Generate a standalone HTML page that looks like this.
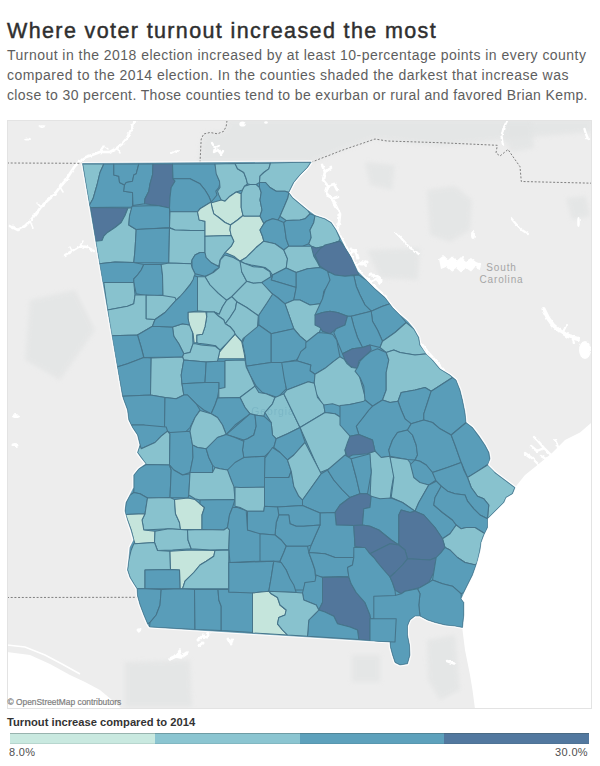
<!DOCTYPE html>
<html><head><meta charset="utf-8"><title>Where voter turnout increased the most</title>
<style>
html,body{margin:0;padding:0;background:#fff;}
body{width:600px;height:766px;position:relative;overflow:hidden;font-family:"Liberation Sans",sans-serif;}
#title{position:absolute;left:7px;top:16px;font-size:21.5px;line-height:30px;font-weight:normal;color:#2f2f2f;white-space:nowrap;letter-spacing:1.38px;-webkit-text-stroke:0.45px #2f2f2f;}
.sub{position:absolute;left:7px;font-size:14px;line-height:20px;color:#5e5e5e;white-space:nowrap;letter-spacing:0.42px;}
#map{position:absolute;left:0;top:0;}
#osm{position:absolute;left:7.5px;top:697px;font-size:8.4px;color:#808080;-webkit-text-stroke:0.2px #808080;white-space:nowrap;}
#lt{position:absolute;left:7px;top:716.4px;font-size:11.2px;font-weight:bold;color:#333;white-space:nowrap;}
.seg{position:absolute;top:733px;height:10.6px;box-shadow:inset 0 1px 0 rgba(60,80,80,0.35), inset 0 -1px 0 rgba(60,80,80,0.12);}
.ll{position:absolute;top:746.4px;font-size:11px;letter-spacing:0.35px;color:#505050;white-space:nowrap;}
</style></head><body>
<svg id="map" width="600" height="766" viewBox="0 0 600 766">
<defs><filter id="bl" x="-20%" y="-20%" width="140%" height="140%"><feGaussianBlur stdDeviation="2"/></filter><filter id="rough" x="-5%" y="-5%" width="110%" height="110%"><feTurbulence type="fractalNoise" baseFrequency="0.22" numOctaves="2" seed="7" result="n"/><feDisplacementMap in="SourceGraphic" in2="n" scale="3.2" xChannelSelector="R" yChannelSelector="G"/></filter><clipPath id="frame"><rect x="7" y="120" width="584" height="588"/></clipPath></defs>
<g clip-path="url(#frame)">
<rect x="7" y="120" width="584" height="588" fill="#ededed"/>
<polygon points="228.0,119.0 592.0,119.0 592.0,132.0 520.0,138.0 440.0,146.0 375.0,139.0 350.0,147.0 330.0,155.0 311.0,163.0 199.0,163.0 200.6,143.0 204.4,133.8 212.0,132.0 223.0,132.0 227.0,126.0" fill="#e2e4e4" opacity="0.75" filter="url(#bl)"/>
<polygon points="427.0,190.0 455.0,186.0 472.0,200.0 470.0,230.0 450.0,242.0 430.0,235.0" fill="#e2e4e4" opacity="0.75" filter="url(#bl)"/>
<polygon points="365.0,162.0 395.0,165.0 392.0,190.0 370.0,185.0" fill="#e2e4e4" opacity="0.75" filter="url(#bl)"/>
<polygon points="367.0,250.0 420.0,248.0 418.0,280.0 380.0,278.0" fill="#e2e4e4" opacity="0.75" filter="url(#bl)"/>
<polygon points="352.0,655.0 380.0,655.0 380.0,682.0 352.0,682.0" fill="#e2e4e4" opacity="0.75" filter="url(#bl)"/>
<polygon points="427.0,640.0 455.0,635.0 460.0,690.0 440.0,700.0 428.0,680.0" fill="#e2e4e4" opacity="0.75" filter="url(#bl)"/>
<polygon points="125.0,662.0 190.0,660.0 192.0,707.0 125.0,707.0" fill="#e2e4e4" opacity="0.75" filter="url(#bl)"/>
<polygon points="30.0,300.0 75.0,290.0 95.0,330.0 60.0,380.0 25.0,360.0" fill="#e2e4e4" opacity="0.75" filter="url(#bl)"/>
<polygon points="566.0,198.0 586.0,196.0 590.0,216.0 572.0,220.0" fill="#e2e4e4" opacity="0.75" filter="url(#bl)"/>
<polygon points="505.0,121.0 532.0,121.0 534.0,148.0 512.0,152.0 504.0,140.0" fill="#e2e4e4" opacity="0.75" filter="url(#bl)"/>
<polygon points="592.0,422.0 580.0,432.5 565.0,440.0 552.0,453.0 537.5,465.0 525.0,475.0 515.0,487.5 512.5,493.8 506.0,497.5 503.8,502.5 498.8,507.5 492.5,513.8 487.5,518.8 487.5,527.5 483.8,535.0 481.0,542.5 480.0,550.0 477.5,560.0 476.0,565.0 472.5,575.0 467.5,585.0 463.8,592.5 461.0,598.8 463.8,602.5 463.8,615.0 462.5,627.5 462.5,630.0 465.0,650.0 470.0,675.0 472.5,690.0 475.0,709.0 592.0,709.0" fill="#ffffff"/>
<polygon points="7,652 30,655 50,664 70,675 85,682 100,690 112,700 122,709 7,709" fill="#fff"/>
<path d="M7,645 L25,647 45,655 62,664 80,674" fill="none" stroke="#fff" stroke-width="1.5"/>
<g filter="url(#rough)"><!--ROUGH-->
<path d="M135,121 L131,130 127,138 122,144 117,148 110,152 100,152 92,155 86,157 80,161 75,166 71,172 66,180 60,187 54,195 47,201 41,207 35,215 30,221 25,226 18,230 10,226" fill="none" stroke="#ffffff" stroke-linecap="round" stroke-linejoin="round" stroke-width="2.7"/>
<path d="M30,221 L33,228 M41,207 L37,203 M60,187 L63,192 M100,152 L104,146 108,149 M117,148 L120,153" fill="none" stroke="#ffffff" stroke-linecap="round" stroke-linejoin="round" stroke-width="1.5"/>
<path d="M65,255 L72,251 80,246 87,247 94,251" fill="none" stroke="#ffffff" stroke-linecap="round" stroke-linejoin="round" stroke-width="2.4"/>
<path d="M80,246 L83,241 M72,251 L70,247" fill="none" stroke="#ffffff" stroke-linecap="round" stroke-linejoin="round" stroke-width="1.5"/>
<ellipse cx="27.5" cy="139" rx="3.5" ry="1.6" fill="#fff"/><ellipse cx="42" cy="126.5" rx="3" ry="1.3" fill="#fff"/>
<ellipse cx="16" cy="416" rx="4" ry="2" fill="#fff"/><ellipse cx="15" cy="445" rx="3.5" ry="2" fill="#fff"/>
<path d="M212,143 L215,148 214,152 218,150 221,154 223,151 M215,148 L219,146" fill="none" stroke="#ffffff" stroke-linecap="round" stroke-linejoin="round" stroke-width="2.4"/>
<path d="M171,153 L175,151 178,152" fill="none" stroke="#ffffff" stroke-linecap="round" stroke-linejoin="round" stroke-width="2"/>
<ellipse cx="242.5" cy="124" rx="3.2" ry="2.6" fill="#fff"/><ellipse cx="266" cy="122.5" rx="1.8" ry="1.2" fill="#fff"/>
<path d="M322,165 L325,172 323,180 328,186 326,193 332,199 336,206 340,214 339,223 337,231 M325,172 L331,168 M328,186 L334,184 337,190 M332,199 L338,197" fill="none" stroke="#ffffff" stroke-linecap="round" stroke-linejoin="round" stroke-width="2.7"/>
<path d="M351,249 L356,252 358,258 M371,275 L377,276 381,281 M362,264 L367,262" fill="none" stroke="#ffffff" stroke-linecap="round" stroke-linejoin="round" stroke-width="3"/>
<path d="M338,232 L344,243 350,254 356,266 362,275 370,282 378,290 386,297" fill="none" stroke="#ffffff" stroke-linecap="round" stroke-linejoin="round" stroke-width="2.6"/>
<path d="M356,266 L362,262 366,266 M370,282 L376,279 380,283 M350,254 L355,250" fill="none" stroke="#ffffff" stroke-linecap="round" stroke-linejoin="round" stroke-width="2"/>
<path d="M415,335 L421,343 428,352 436,361 444,370" fill="none" stroke="#ffffff" stroke-linecap="round" stroke-linejoin="round" stroke-width="2.2"/>
<polygon points="439,259 443,256 448,260 452,256.5 457,260.5 461,257 466,261 471,258 476,262 481.5,264 480,269 475,267 471,271.5 466,268 461,272.5 456,268 451,271.5 446,267 441,269" fill="#fff"/>
<path d="M446,262 L443,267 M461,262 L463,257 M468,264 L470,269" fill="none" stroke="#ffffff" stroke-linecap="round" stroke-linejoin="round" stroke-width="2"/>
<path d="M396,233 L402,239 408,246 415,252 419,254" fill="none" stroke="#ffffff" stroke-linecap="round" stroke-linejoin="round" stroke-width="2.2"/>
<path d="M511,218 L516,224 522,230 528,234" fill="none" stroke="#ffffff" stroke-linecap="round" stroke-linejoin="round" stroke-width="2.2"/>
<ellipse cx="473" cy="235" rx="2" ry="4" fill="#fff"/>
<path d="M543.5,309 L548,318 553,325 560,331 568,336 578,339" fill="none" stroke="#ffffff" stroke-linecap="round" stroke-linejoin="round" stroke-width="4"/>
<path d="M563,332 L566,326 M572,336 L574,343" fill="none" stroke="#ffffff" stroke-linecap="round" stroke-linejoin="round" stroke-width="2"/>
<ellipse cx="585" cy="350" rx="6" ry="9" fill="#fff"/>
<path d="M584.5,129 L586,134 588,139" fill="none" stroke="#ffffff" stroke-linecap="round" stroke-linejoin="round" stroke-width="2.4"/>
<path d="M507,121 L503.5,128 501.5,137 503,145" fill="none" stroke="#ffffff" stroke-linecap="round" stroke-linejoin="round" stroke-width="2.2"/>
<ellipse cx="578.5" cy="222" rx="1.3" ry="5" fill="#fff"/>
<path d="M551,455 L544,448 538,441 534,437 M544,448 L537,451 531,446 M538,464 L532,458 525,453 M558,447 L555,440 M546,459 L541,456" fill="none" stroke="#ffffff" stroke-linecap="round" stroke-linejoin="round" stroke-width="2.4"/>
<path d="M170,659 L176,656 181,657 187,653 M178,655 L180,651" fill="none" stroke="#ffffff" stroke-linecap="round" stroke-linejoin="round" stroke-width="3.4"/>
<path d="M198,640 L203,636 207,637 209,633 M199,646 L203,643 M228,639 L231,644 232,640" fill="none" stroke="#ffffff" stroke-linecap="round" stroke-linejoin="round" stroke-width="3"/>
<path d="M447,661 L451,662.5 454,663.5" fill="none" stroke="#ffffff" stroke-linecap="round" stroke-linejoin="round" stroke-width="2.6"/>
<ellipse cx="139" cy="630" rx="2.5" ry="1.8" fill="#fff"/>
</g>
<path d="M7,163 L82.5,163.3" fill="none" stroke="#7f7f7f" stroke-width="1" stroke-dasharray="2,1.7"/>
<path d="M200,162.5 L201.2,139 203.7,134 210,132.5 217.5,133.8 223.7,131.3 226.2,126.3 227,120.5" fill="none" stroke="#7f7f7f" stroke-width="1" stroke-dasharray="2,1.7"/>
<path d="M311.3,162.3 L322,158 330,155 340,151 350,147.5 362,143.5 375,139 387,141 440,142.7 497.3,145.3 496,153 500,156 508,149.5 520,166.7 521.3,181.5 592,183.2" fill="none" stroke="#7f7f7f" stroke-width="1" stroke-dasharray="2,1.7"/>
<path d="M7,597.5 L137.5,597.3" fill="none" stroke="#7f7f7f" stroke-width="1" stroke-dasharray="2,1.7"/>
<polygon points="82.5,163.5 311.2,162.0 307.5,167.5 300.0,175.0 293.8,182.5 288.8,192.5 292.5,197.5 300.0,203.8 307.5,210.0 315.0,215.5 325.0,218.8 331.2,222.5 336.2,230.0 340.0,237.5 345.0,247.5 351.2,257.5 357.5,271.2 366.2,280.0 375.0,288.8 385.0,297.5 392.5,307.5 400.0,315.0 407.5,321.2 413.8,328.8 418.8,337.5 420.0,345.0 426.0,354.0 432.5,360.0 440.0,369.0 450.0,375.0 456.0,380.0 460.0,390.0 462.5,400.0 465.0,412.5 466.0,422.5 472.5,427.5 479.0,436.0 485.0,445.0 489.0,452.5 490.0,458.8 487.5,465.0 495.0,472.5 505.0,480.0 515.0,487.5 512.5,493.8 506.0,497.5 503.8,502.5 498.8,507.5 492.5,513.8 487.5,518.8 487.5,527.5 483.8,535.0 481.0,542.5 480.0,550.0 477.5,560.0 476.0,565.0 472.5,575.0 467.5,585.0 463.8,592.5 461.0,598.8 463.8,602.5 463.8,615.0 462.5,627.5 455.0,626.0 445.0,625.0 435.0,622.5 427.5,620.0 420.0,616.0 415.0,616.0 410.0,620.0 407.5,626.0 407.5,635.0 409.5,645.0 410.0,655.0 407.5,663.8 400.0,665.0 395.0,662.5 392.5,655.0 390.5,647.5 390.0,642.0 149.5,627.0 147.5,623.8 143.8,615.0 140.0,605.0 137.5,596.0 137.0,588.8 133.8,583.8 130.0,577.5 127.5,570.0 128.8,560.0 130.0,547.5 133.8,540.0 131.0,530.0 127.5,520.0 125.0,511.0 126.0,502.5 130.0,495.0 133.8,487.5 133.8,475.0 138.8,468.8 146.0,463.8 141.0,457.5 137.5,452.5 140.0,445.0 137.5,435.0 132.5,427.5 128.8,420.0 127.5,410.0 123.8,400.0 122.5,396.0" fill="none" stroke="#ffffff" stroke-width="3.2" stroke-linejoin="round" opacity="0.85"/>
<text x="501.5" y="271" text-anchor="middle" font-family="Liberation Sans, sans-serif" font-size="10" fill="#a6a6a6" letter-spacing="0.85">South</text>
<text x="501.5" y="282.5" text-anchor="middle" font-family="Liberation Sans, sans-serif" font-size="10" fill="#a6a6a6" letter-spacing="0.85">Carolina</text>
<clipPath id="ga"><polygon points="82.5,163.5 311.2,162.0 307.5,167.5 300.0,175.0 293.8,182.5 288.8,192.5 292.5,197.5 300.0,203.8 307.5,210.0 315.0,215.5 325.0,218.8 331.2,222.5 336.2,230.0 340.0,237.5 345.0,247.5 351.2,257.5 357.5,271.2 366.2,280.0 375.0,288.8 385.0,297.5 392.5,307.5 400.0,315.0 407.5,321.2 413.8,328.8 418.8,337.5 420.0,345.0 426.0,354.0 432.5,360.0 440.0,369.0 450.0,375.0 456.0,380.0 460.0,390.0 462.5,400.0 465.0,412.5 466.0,422.5 472.5,427.5 479.0,436.0 485.0,445.0 489.0,452.5 490.0,458.8 487.5,465.0 495.0,472.5 505.0,480.0 515.0,487.5 512.5,493.8 506.0,497.5 503.8,502.5 498.8,507.5 492.5,513.8 487.5,518.8 487.5,527.5 483.8,535.0 481.0,542.5 480.0,550.0 477.5,560.0 476.0,565.0 472.5,575.0 467.5,585.0 463.8,592.5 461.0,598.8 463.8,602.5 463.8,615.0 462.5,627.5 455.0,626.0 445.0,625.0 435.0,622.5 427.5,620.0 420.0,616.0 415.0,616.0 410.0,620.0 407.5,626.0 407.5,635.0 409.5,645.0 410.0,655.0 407.5,663.8 400.0,665.0 395.0,662.5 392.5,655.0 390.5,647.5 390.0,642.0 149.5,627.0 147.5,623.8 143.8,615.0 140.0,605.0 137.5,596.0 137.0,588.8 133.8,583.8 130.0,577.5 127.5,570.0 128.8,560.0 130.0,547.5 133.8,540.0 131.0,530.0 127.5,520.0 125.0,511.0 126.0,502.5 130.0,495.0 133.8,487.5 133.8,475.0 138.8,468.8 146.0,463.8 141.0,457.5 137.5,452.5 140.0,445.0 137.5,435.0 132.5,427.5 128.8,420.0 127.5,410.0 123.8,400.0 122.5,396.0"/></clipPath>
<polygon points="82.5,163.5 311.2,162.0 307.5,167.5 300.0,175.0 293.8,182.5 288.8,192.5 292.5,197.5 300.0,203.8 307.5,210.0 315.0,215.5 325.0,218.8 331.2,222.5 336.2,230.0 340.0,237.5 345.0,247.5 351.2,257.5 357.5,271.2 366.2,280.0 375.0,288.8 385.0,297.5 392.5,307.5 400.0,315.0 407.5,321.2 413.8,328.8 418.8,337.5 420.0,345.0 426.0,354.0 432.5,360.0 440.0,369.0 450.0,375.0 456.0,380.0 460.0,390.0 462.5,400.0 465.0,412.5 466.0,422.5 472.5,427.5 479.0,436.0 485.0,445.0 489.0,452.5 490.0,458.8 487.5,465.0 495.0,472.5 505.0,480.0 515.0,487.5 512.5,493.8 506.0,497.5 503.8,502.5 498.8,507.5 492.5,513.8 487.5,518.8 487.5,527.5 483.8,535.0 481.0,542.5 480.0,550.0 477.5,560.0 476.0,565.0 472.5,575.0 467.5,585.0 463.8,592.5 461.0,598.8 463.8,602.5 463.8,615.0 462.5,627.5 455.0,626.0 445.0,625.0 435.0,622.5 427.5,620.0 420.0,616.0 415.0,616.0 410.0,620.0 407.5,626.0 407.5,635.0 409.5,645.0 410.0,655.0 407.5,663.8 400.0,665.0 395.0,662.5 392.5,655.0 390.5,647.5 390.0,642.0 149.5,627.0 147.5,623.8 143.8,615.0 140.0,605.0 137.5,596.0 137.0,588.8 133.8,583.8 130.0,577.5 127.5,570.0 128.8,560.0 130.0,547.5 133.8,540.0 131.0,530.0 127.5,520.0 125.0,511.0 126.0,502.5 130.0,495.0 133.8,487.5 133.8,475.0 138.8,468.8 146.0,463.8 141.0,457.5 137.5,452.5 140.0,445.0 137.5,435.0 132.5,427.5 128.8,420.0 127.5,410.0 123.8,400.0 122.5,396.0" fill="#599db9"/>
<g clip-path="url(#ga)" stroke="#46748a" stroke-width="1.05" stroke-linejoin="round">
<polygon points="82.5,163.8 103.8,164.0 100.0,172.5 97.0,185.0 93.0,198.8 89.2,205.5" fill="#88c2ce"/>
<polygon points="103.8,164.0 113.8,164.0 113.8,175.0 118.8,176.2 119.5,182.5 124.5,185.0 123.8,191.2 132.5,192.5 132.5,207.0 90.5,207.5 89.2,205.5 93.0,198.8 97.0,185.0 100.0,172.5" fill="#599db9"/>
<polygon points="113.8,164.0 138.8,164.0 136.2,173.8 133.8,175.0 132.5,181.2 126.2,182.5 124.5,185.0 119.5,182.5 118.8,176.2 113.8,175.0" fill="#599db9"/>
<polygon points="138.8,164.0 153.0,164.0 152.5,175.0 150.0,183.8 148.8,191.2 145.0,198.8 144.5,203.8 133.0,205.5 132.5,192.5 123.8,191.2 124.5,185.0 126.2,182.5 132.5,181.2 133.8,175.0 136.2,173.8" fill="#599db9"/>
<polygon points="153.0,164.0 172.5,164.0 173.0,177.5 175.0,181.2 171.2,187.5 170.0,197.5 169.5,208.0 157.5,205.5 144.5,203.8 145.0,198.8 148.8,191.2 150.0,183.8 152.5,175.0" fill="#52769b"/>
<polygon points="172.5,164.0 215.0,164.0 217.0,175.0 220.0,182.5 218.8,187.5 215.8,191.2 217.0,195.0 211.2,202.0 208.8,196.2 205.0,190.0 200.0,183.8 190.0,178.8 173.0,178.8" fill="#599db9"/>
<polygon points="173.0,178.8 190.0,178.8 200.0,183.8 205.0,190.0 208.8,196.2 211.2,202.0 200.0,208.8 197.5,211.8 170.0,211.8 169.5,208.0 170.0,197.5 171.2,187.5 175.0,181.2" fill="#599db9"/>
<polygon points="90.5,207.5 128.0,208.0 125.0,215.5 121.2,222.5 115.0,227.5 107.5,232.5 103.8,236.2 102.0,240.5 95.5,241.2" fill="#52769b"/>
<polygon points="128.0,208.0 132.0,208.0 129.5,216.2 128.8,225.0 136.2,229.5 135.0,250.0 133.8,262.5 115.0,262.0 99.0,263.8 95.5,241.2 102.0,240.5 103.8,236.2 107.5,232.5 115.0,227.5 121.2,222.5 125.0,215.5" fill="#88c2ce"/>
<polygon points="132.0,206.2 157.5,205.5 169.5,208.0 169.5,227.5 150.0,228.8 136.2,229.5 128.8,225.0 129.5,216.2" fill="#599db9"/>
<polygon points="136.2,229.5 150.0,228.8 169.5,228.0 168.8,263.0 133.8,262.5 135.0,250.0" fill="#599db9"/>
<polygon points="170.0,211.8 197.5,211.8 199.2,220.0 205.0,221.2 205.0,230.5 191.2,230.5 175.0,230.0 169.5,227.5" fill="#88c2ce"/>
<polygon points="169.5,228.0 175.0,230.0 191.2,230.5 205.0,230.5 205.0,252.5 200.0,252.5 195.0,255.0 192.0,260.0 191.2,263.8 168.8,263.0" fill="#88c2ce"/>
<polygon points="200.0,252.5 205.0,252.5 206.2,257.5 211.2,262.5 216.2,265.0 220.0,267.5 215.0,270.0 211.2,273.8 205.0,276.2 200.0,275.0 195.0,273.8 192.0,267.5 192.0,260.0 195.0,255.0" fill="#599db9"/>
<polygon points="99.0,263.8 115.0,262.0 133.8,262.5 143.8,264.5 141.2,270.0 137.5,275.0 133.8,278.8 133.8,282.5 102.5,283.0" fill="#599db9"/>
<polygon points="143.8,264.5 161.2,264.5 162.5,275.0 163.0,295.0 150.0,296.2 136.2,293.8 133.8,282.5 133.8,278.8 137.5,275.0 141.2,270.0" fill="#599db9"/>
<polygon points="161.2,264.5 168.8,263.0 191.2,263.8 192.0,267.5 195.0,273.8 193.8,280.0 188.8,286.2 183.8,292.5 180.0,300.0 163.0,300.0 163.0,295.0 162.5,275.0" fill="#88c2ce"/>
<polygon points="215.0,164.0 235.0,163.5 237.5,168.8 243.8,172.5 246.2,178.8 247.5,183.8 244.5,186.2 242.5,190.0 236.2,192.0 230.0,196.2 225.0,201.2 221.2,200.0 218.8,195.0 217.5,191.2 220.0,187.5 219.5,181.2 216.2,173.8" fill="#88c2ce"/>
<polygon points="235.0,163.5 270.5,163.0 268.8,168.8 263.8,172.5 260.0,176.2 259.5,182.5 256.2,184.5 250.0,184.5 247.5,183.8 246.2,178.8 243.8,172.5 237.5,168.8" fill="#88c2ce"/>
<polygon points="270.5,163.0 311.2,162.0 307.5,167.5 300.0,175.0 293.8,182.5 288.8,192.5 285.0,191.2 276.2,191.2 270.0,187.5 265.5,182.5 259.5,182.5 260.0,176.2 263.8,172.5 268.8,168.8" fill="#88c2ce"/>
<polygon points="225.0,201.2 230.0,196.2 236.2,192.0 241.2,193.8 241.2,207.5 243.0,215.5 237.5,220.0 230.5,225.0 225.0,222.5 218.8,217.5 213.8,213.8 212.0,207.5 211.0,202.0 212.5,202.5 221.2,200.0" fill="#c5e5dc"/>
<polygon points="244.5,186.2 250.0,184.5 256.2,184.5 259.5,187.5 261.2,192.5 260.0,200.0 262.0,210.0 260.0,216.2 243.8,216.2 243.0,215.5 241.2,207.5 241.2,193.8 242.5,190.0" fill="#88c2ce"/>
<polygon points="259.5,182.5 265.5,182.5 270.0,187.5 276.2,191.2 285.0,191.2 288.8,192.5 288.0,197.5 283.8,207.5 280.0,216.2 278.0,220.0 272.5,218.8 266.2,221.2 263.8,223.8 260.0,216.2 262.0,210.0 260.0,200.0 261.2,192.5 259.5,187.5" fill="#599db9"/>
<polygon points="288.8,192.5 292.5,197.5 300.0,203.8 307.5,210.0 310.0,213.8 305.0,218.8 300.0,220.0 286.2,220.5 280.0,216.2 283.8,207.5 288.0,197.5" fill="#88c2ce"/>
<polygon points="211.0,202.0 212.0,207.5 213.8,213.8 218.8,217.5 225.0,222.5 230.5,225.0 230.0,230.0 231.2,235.5 205.0,236.2 205.0,221.2 199.2,220.0 197.5,211.8 200.0,208.8" fill="#c5e5dc"/>
<polygon points="230.5,225.0 237.5,220.0 243.0,215.5 243.8,216.2 260.0,216.2 263.8,223.8 260.0,230.0 262.5,236.2 263.8,241.2 256.2,247.5 246.2,257.5 240.0,261.2 233.8,256.2 225.0,252.5 231.2,246.2 233.8,241.2 231.2,235.5 230.0,230.0" fill="#c5e5dc"/>
<polygon points="263.8,223.8 266.2,221.2 272.5,218.8 278.0,220.0 283.8,222.5 285.0,230.0 286.2,238.8 288.8,246.2 283.8,250.0 275.0,243.8 263.8,241.2 262.5,236.2 260.0,230.0" fill="#599db9"/>
<polygon points="283.8,222.5 286.2,220.5 300.0,220.0 305.0,218.8 310.0,213.8 315.0,215.5 313.8,222.5 310.0,230.0 311.2,237.5 308.8,243.8 302.5,246.2 288.8,246.2 286.2,238.8 285.0,230.0" fill="#599db9"/>
<polygon points="315.0,215.5 325.0,218.8 331.2,222.5 336.2,230.0 340.0,238.8 338.8,241.2 325.0,246.2 316.2,248.0 311.2,246.2 308.8,243.8 311.2,237.5 310.0,230.0 313.8,222.5" fill="#88c2ce"/>
<polygon points="311.2,246.2 316.2,248.0 325.0,246.2 338.8,241.2 342.5,243.8 347.5,250.0 350.0,255.0 352.5,262.5 351.2,270.0 346.2,272.5 340.0,275.0 332.5,272.5 325.0,269.5 317.5,262.5 313.8,256.2 311.2,251.2" fill="#52769b"/>
<polygon points="205.0,236.2 231.2,235.5 233.8,241.2 231.2,246.2 225.0,252.5 220.0,260.0 218.8,266.2 215.0,264.5 211.2,262.5 206.2,257.5 205.0,252.5" fill="#88c2ce"/>
<polygon points="240.0,261.2 246.2,257.5 256.2,247.5 263.8,241.2 275.0,243.8 283.8,250.0 287.5,258.8 286.2,268.0 272.5,275.0 270.0,271.2 265.0,267.5 258.8,266.2 251.2,265.0 244.2,263.2" fill="#88c2ce"/>
<polygon points="283.8,250.0 288.8,246.2 302.5,246.2 311.2,246.2 313.8,256.2 317.5,262.5 320.0,267.5 307.5,268.8 296.2,272.5 286.2,268.0 287.5,258.8" fill="#88c2ce"/>
<polygon points="272.5,275.0 286.2,268.0 296.2,272.5 296.2,287.5 271.2,280.0" fill="#599db9"/>
<polygon points="262.5,281.2 271.2,276.2 272.5,275.0 271.2,280.0 296.2,287.5 293.8,300.0 285.0,303.8 277.5,297.5 272.5,293.8 262.5,285.0" fill="#599db9"/>
<polygon points="296.2,272.5 307.5,268.8 320.0,267.5 325.0,269.5 332.5,272.5 336.2,275.0 330.0,282.5 323.8,291.2 322.5,300.0 320.0,303.8 310.0,305.0 300.0,300.0 293.8,300.0 296.2,287.5" fill="#599db9"/>
<polygon points="285.0,303.8 293.8,300.0 300.0,300.0 310.0,305.0 320.0,303.8 322.5,308.8 320.0,317.5 321.2,327.5 318.8,333.8 307.5,342.5 300.0,336.2 293.8,328.8" fill="#88c2ce"/>
<polygon points="322.5,308.8 327.5,312.5 336.2,311.2 347.5,316.2 345.0,323.8 336.2,327.5 330.0,333.8 322.5,331.2 321.2,327.5 320.0,317.5" fill="#52769b"/>
<polygon points="272.5,293.8 277.5,297.5 285.0,303.8 293.8,328.8 271.2,333.8 258.8,325.0 258.8,315.0 266.2,303.8" fill="#599db9"/>
<polygon points="258.8,325.0 271.2,333.8 271.2,362.5 246.2,366.2 245.0,355.0 242.5,342.5 245.0,336.2 251.2,331.2" fill="#599db9"/>
<polygon points="271.2,333.8 293.8,328.8 300.0,336.2 307.5,342.5 305.0,350.0 296.2,360.0 282.5,362.5 271.2,362.5" fill="#599db9"/>
<polygon points="246.2,366.2 271.2,362.5 282.5,362.5 286.2,388.8 277.5,397.5 262.5,392.5 256.2,386.2 250.0,375.0" fill="#599db9"/>
<polygon points="205.0,276.7 213.3,272.5 219.2,267.5 220.3,260.0 225.0,255.0 233.3,257.5 240.0,261.3 244.2,263.3 241.7,271.7 246.7,281.3 231.7,296.7 226.7,300.3 218.3,293.3 210.0,285.0" fill="#88c2ce"/>
<polygon points="197.5,276.7 205.0,276.7 210.0,285.0 218.3,293.3 226.7,300.3 222.5,306.7 219.2,314.2 214.2,312.0 206.7,311.7 197.5,310.8" fill="#88c2ce"/>
<polygon points="240.0,261.3 244.2,263.3 253.3,266.7 263.3,267.5 270.0,271.7 270.8,276.7 261.7,282.5 253.3,283.3 246.7,281.3 241.7,271.7" fill="#88c2ce"/>
<polygon points="246.7,281.3 253.3,283.3 261.7,282.5 272.5,294.2 266.7,303.3 258.3,315.8 246.7,307.5 236.7,301.7 231.7,296.7" fill="#88c2ce"/>
<polygon points="226.7,300.3 231.7,296.7 236.7,301.7 235.3,309.2 230.0,317.5 225.3,323.7 223.7,319.7 218.7,316.3 214.2,312.0 219.2,314.2 222.5,306.7" fill="#88c2ce"/>
<polygon points="236.7,301.7 246.7,307.5 258.3,315.8 257.5,326.7 243.3,338.3 241.7,341.7 235.0,334.2 234.2,331.7 230.0,326.7 225.3,323.7 230.0,317.5 235.3,309.2" fill="#88c2ce"/>
<polygon points="235.0,334.2 241.7,341.7 244.2,353.3 245.0,358.7 218.3,358.7 219.2,352.5 226.7,343.3" fill="#c5e5dc"/>
<polygon points="206.7,311.7 214.2,312.0 218.7,316.3 223.7,319.7 225.3,323.7 230.0,326.7 234.2,331.7 235.0,334.2 226.7,343.3 220.0,350.0 215.8,345.8 206.7,344.2 198.3,343.3 196.7,342.5 196.7,335.0 202.5,334.2 205.0,326.7 206.7,316.7" fill="#88c2ce"/>
<polygon points="188.0,312.0 205.8,311.7 206.7,316.7 205.0,326.7 202.5,334.2 196.7,335.0 196.7,342.5 194.2,343.3 193.0,333.3 189.2,326.7 188.0,318.3" fill="#c5e5dc"/>
<polygon points="320.0,248.8 325.0,245.0 335.0,242.5 340.0,241.2 345.0,247.5 351.2,257.5 357.5,271.2 358.8,275.0 352.5,275.0 345.0,276.2 335.0,275.0 327.5,271.2 320.0,266.2 315.0,255.0" fill="#52769b"/>
<polygon points="353.8,275.5 358.8,275.0 366.2,280.0 375.0,288.8 385.0,297.5 390.0,303.8 382.5,306.2 371.2,311.2 365.0,305.0 360.0,295.0 356.2,286.2" fill="#599db9"/>
<polygon points="327.5,271.2 335.0,275.0 345.0,276.2 353.8,275.5 356.2,286.2 360.0,295.0 365.0,305.0 371.2,311.2 351.2,316.2 347.5,316.2 337.5,312.5 330.0,311.2 322.5,312.5 315.0,315.0 322.5,298.8 325.0,290.0 330.0,280.0" fill="#599db9"/>
<polygon points="322.5,312.5 330.0,311.2 337.5,312.5 347.5,316.2 345.0,325.0 336.2,328.8 330.0,333.8 322.5,331.2 320.0,327.5 315.0,325.0 315.0,315.0" fill="#52769b"/>
<polygon points="371.2,311.2 382.5,306.2 390.0,303.8 392.5,307.5 400.0,315.0 406.2,322.5 395.0,332.5 382.5,341.2 377.5,330.0 372.5,321.2" fill="#599db9"/>
<polygon points="351.2,316.2 371.2,311.2 372.5,321.2 377.5,330.0 382.5,341.2 380.0,347.5 370.0,345.0 362.5,347.5 357.5,337.5 353.8,326.2" fill="#599db9"/>
<polygon points="347.5,316.2 351.2,316.2 353.8,326.2 357.5,337.5 362.5,347.5 352.5,348.8 342.5,353.8 338.8,345.0 333.8,332.5 336.2,328.8 345.0,325.0" fill="#599db9"/>
<polygon points="342.5,353.8 352.5,348.8 362.5,347.5 370.0,345.0 371.2,350.0 365.0,356.2 358.8,361.2 357.5,368.8 350.0,366.2 345.0,360.0" fill="#52769b"/>
<polygon points="406.2,322.5 413.8,328.8 418.8,337.5 420.0,345.0 427.5,353.8 415.0,355.0 400.0,352.5 393.8,350.0 386.2,352.5 380.0,347.5 382.5,341.2 395.0,332.5" fill="#88c2ce"/>
<polygon points="305.8,342.5 318.3,332.5 326.7,333.3 332.5,334.2 336.7,340.0 339.2,353.3 340.0,356.7 333.3,361.7 325.0,368.3 315.0,374.2 310.0,370.8 310.8,365.0 296.7,360.8 300.8,351.7 305.8,347.5" fill="#599db9"/>
<polygon points="281.7,362.5 296.7,360.8 310.8,365.0 310.0,370.8 315.0,374.2 314.2,383.3 308.3,381.7 286.7,390.0 284.2,378.3" fill="#599db9"/>
<polygon points="340.0,356.7 344.2,359.2 346.7,363.3 351.7,367.5 356.7,368.3 360.0,378.3 363.3,390.0 366.7,403.3 363.3,416.7 340.0,420.0 325.0,408.3 320.0,400.0 315.8,393.3 314.2,383.3 315.0,374.2 325.0,368.3 333.3,361.7" fill="#88c2ce"/>
<polygon points="103.8,282.5 133.8,282.5 135.0,295.0 133.8,303.8 127.5,306.2 107.5,310.0" fill="#88c2ce"/>
<polygon points="107.5,310.0 127.5,306.2 133.8,303.8 135.0,295.0 146.2,295.0 146.2,318.8 155.0,319.5 152.5,326.2 137.5,335.0 111.2,335.8" fill="#88c2ce"/>
<polygon points="146.2,295.0 162.5,295.5 175.0,297.5 176.2,300.0 165.0,312.5 155.0,319.5 146.2,318.8" fill="#88c2ce"/>
<polygon points="172.5,327.0 182.5,323.8 189.5,325.0 192.5,332.5 193.0,343.8 190.0,352.5 183.8,353.8 178.8,343.8 173.8,336.2" fill="#88c2ce"/>
<polygon points="137.5,335.0 152.5,326.2 172.5,327.0 173.8,336.2 178.8,343.8 183.8,353.8 182.5,357.0 143.8,357.5 141.2,347.5" fill="#599db9"/>
<polygon points="111.2,335.8 137.5,335.0 141.2,347.5 143.8,357.5 127.5,363.8 117.0,367.0" fill="#599db9"/>
<polygon points="193.0,343.8 195.5,343.8 201.2,345.0 215.0,346.2 220.0,350.0 217.5,361.2 206.2,362.0 183.8,360.0 182.5,357.0 183.8,353.8 190.0,352.5" fill="#88c2ce"/>
<polygon points="117.0,367.0 127.5,363.8 143.8,357.5 151.2,358.0 150.5,395.0 122.5,396.2" fill="#599db9"/>
<polygon points="151.2,358.0 182.5,357.0 183.8,360.0 181.2,375.0 182.0,383.8 183.8,395.0 176.2,398.8 165.0,397.5 150.5,395.0" fill="#88c2ce"/>
<polygon points="183.8,360.0 206.2,362.0 205.0,382.5 182.0,383.8 181.2,375.0" fill="#599db9"/>
<polygon points="206.2,362.0 217.5,361.2 225.0,361.2 225.0,388.8 218.8,390.0 218.8,382.5 205.0,382.5" fill="#599db9"/>
<polygon points="182.0,383.8 205.0,382.5 218.8,382.5 218.8,390.0 217.5,397.5 215.0,405.0 211.2,413.8 203.8,410.0 196.2,403.8 187.5,395.0 183.8,395.0" fill="#599db9"/>
<polygon points="122.5,396.2 150.5,395.0 165.0,397.5 164.5,427.5 146.2,427.0 143.8,425.0 131.2,425.0 128.8,420.0 127.5,410.0 123.8,400.0" fill="#599db9"/>
<polygon points="165.0,397.5 176.2,398.8 183.8,395.0 187.5,395.0 196.2,403.8 200.0,410.0 195.0,417.5 190.0,427.5 185.0,432.5 165.0,432.5 164.5,427.5" fill="#599db9"/>
<polygon points="225.0,360.5 245.0,360.0 246.2,367.0 251.2,377.5 255.0,386.2 240.0,397.5 218.8,398.0 218.8,388.8 225.0,387.5" fill="#88c2ce"/>
<polygon points="240.0,397.5 255.0,386.2 258.8,392.5 266.2,393.8 275.0,397.5 272.5,403.8 265.0,412.5 263.8,416.2 255.0,415.0 250.0,413.8 245.0,407.5" fill="#88c2ce"/>
<polygon points="275.0,397.5 283.8,393.8 300.0,427.5 287.5,433.8 276.2,438.8 272.5,435.0 271.2,422.5 265.0,412.5 272.5,403.8" fill="#88c2ce"/>
<polygon points="283.8,393.8 286.8,390.0 308.2,381.8 314.2,383.2 317.5,397.5 323.8,405.0 325.0,412.5 300.0,427.5" fill="#88c2ce"/>
<polygon points="323.8,405.0 332.5,403.8 340.0,406.2 360.0,402.5 370.0,402.5 370.0,426.2 360.0,426.2 351.2,427.5 345.0,420.0 335.0,413.8 325.0,412.5" fill="#599db9"/>
<polygon points="300.0,427.5 325.0,412.5 335.0,413.8 345.0,420.0 351.2,427.5 351.2,440.0 345.0,450.0 346.2,457.5 332.5,467.5 320.0,472.5" fill="#88c2ce"/>
<polygon points="217.5,398.0 240.0,397.5 245.0,407.5 250.0,413.8 235.0,425.0 226.2,434.5 222.5,425.0 217.5,417.5 211.2,413.8 215.0,405.0" fill="#599db9"/>
<polygon points="226.2,434.5 250.0,413.8 255.0,415.0 256.2,426.2 253.8,435.0 247.5,438.8 243.8,440.0" fill="#599db9"/>
<polygon points="255.0,415.0 263.8,416.2 271.2,422.5 272.5,435.0 276.2,438.8 273.8,447.5 265.0,456.2 243.8,457.5 242.5,450.0 243.8,440.0 247.5,438.8 253.8,435.0 256.2,426.2" fill="#599db9"/>
<polygon points="226.2,468.8 235.0,460.0 243.8,457.5 265.0,456.2 265.0,487.5 232.5,487.5 231.2,480.0" fill="#599db9"/>
<polygon points="276.2,438.8 287.5,433.8 300.0,427.5 305.0,442.0 293.8,455.0 287.5,460.0 280.0,452.5 273.8,447.5" fill="#599db9"/>
<polygon points="371.2,351.2 377.5,348.8 386.2,352.5 388.8,360.0 386.2,372.5 386.2,390.0 382.5,400.0 372.5,406.2 365.0,400.0 363.8,386.2 360.0,377.5 355.0,371.2 357.5,367.5 360.0,361.2 365.0,356.2" fill="#599db9"/>
<polygon points="386.2,352.5 393.8,350.0 400.0,352.5 415.0,355.0 427.5,353.8 432.5,360.0 440.0,368.8 450.0,375.0 452.5,377.5 431.2,391.2 425.0,387.5 415.0,390.0 401.2,392.5 398.0,401.2 390.0,402.5 382.5,400.0 386.2,390.0 386.2,372.5 388.8,360.0" fill="#88c2ce"/>
<polygon points="401.2,392.5 415.0,390.0 425.0,387.5 431.2,391.2 427.5,402.5 423.8,413.8 423.8,420.0 411.2,423.8 405.0,418.8 401.2,410.0 398.0,401.2" fill="#599db9"/>
<polygon points="431.2,391.2 452.5,377.5 456.2,380.0 460.0,390.0 462.5,400.0 465.0,412.5 466.2,422.5 451.2,435.0 440.0,428.8 432.5,422.5 423.8,420.0 423.8,413.8 427.5,402.5" fill="#599db9"/>
<polygon points="372.5,406.2 382.5,400.0 390.0,402.5 398.0,401.2 401.2,410.0 405.0,418.8 411.2,423.8 407.5,430.0 397.5,432.5 392.5,440.0 388.8,450.0 390.0,456.2 381.2,457.5 375.0,451.2 372.5,440.0 358.8,434.5 356.2,426.2 365.0,415.0 368.8,410.0" fill="#599db9"/>
<polygon points="340.0,405.5 350.0,404.5 363.8,401.2 365.0,400.0 372.5,406.2 368.8,410.0 365.0,415.0 356.2,426.2 358.8,434.5 350.0,436.2 340.0,425.0" fill="#599db9"/>
<polygon points="350.0,436.2 358.8,434.5 372.5,440.0 375.0,451.2 367.5,453.8 352.5,455.0 347.5,457.5 345.0,450.0 347.5,442.5" fill="#52769b"/>
<polygon points="397.5,432.5 407.5,430.0 412.5,435.0 416.2,445.0 417.5,455.0 415.0,460.0 407.5,459.5 390.0,456.2 388.8,450.0 392.5,440.0" fill="#599db9"/>
<polygon points="411.2,423.8 423.8,420.0 432.5,422.5 440.0,428.8 451.2,435.0 455.0,445.0 461.2,462.5 447.5,467.5 432.5,472.5 426.2,465.0 420.0,461.2 415.0,460.0 417.5,455.0 416.2,445.0 412.5,435.0 407.5,430.0" fill="#599db9"/>
<polygon points="451.2,435.0 466.2,422.5 472.5,427.5 478.8,436.2 485.0,445.0 488.8,452.5 490.0,460.0 488.8,463.8 476.2,472.5 467.5,477.5 461.2,462.5 455.0,445.0" fill="#599db9"/>
<polygon points="415.0,460.0 420.0,461.2 426.2,465.0 432.5,472.5 436.2,480.0 428.8,485.0 417.5,482.5 412.5,476.2 410.0,465.0" fill="#599db9"/>
<polygon points="367.5,453.8 375.0,451.2 381.2,457.5 390.0,456.2 393.8,475.0 391.2,490.0 390.0,500.0 370.0,500.0 371.2,470.0" fill="#88c2ce"/>
<polygon points="131.2,425.0 143.8,425.0 166.2,427.0 167.5,431.2 161.2,436.2 155.0,442.5 141.2,448.8 140.0,445.0 137.5,435.0 132.5,427.5" fill="#599db9"/>
<polygon points="141.2,448.8 155.0,442.5 161.2,436.2 167.5,431.2 170.0,433.8 169.5,465.0 146.2,464.5 141.2,457.5 137.5,452.5 140.0,445.0" fill="#88c2ce"/>
<polygon points="167.5,431.2 170.0,432.5 190.0,431.2 192.5,445.0 193.0,457.5 190.0,472.5 182.5,475.0 173.8,470.0 169.5,465.0 170.0,433.8" fill="#599db9"/>
<polygon points="200.0,410.5 211.2,413.8 217.5,417.5 222.5,425.0 226.2,434.5 217.5,437.5 210.0,445.0 206.2,448.8 197.5,447.5 192.5,445.0 190.0,431.2 191.2,426.2 195.0,417.5" fill="#88c2ce"/>
<polygon points="192.5,445.0 197.5,447.5 206.2,448.8 208.8,457.5 212.5,465.0 212.5,472.5 190.0,472.5 193.0,457.5" fill="#599db9"/>
<polygon points="206.2,448.8 210.0,445.0 217.5,437.5 226.2,434.5 235.0,437.5 243.8,441.2 242.5,450.0 243.8,457.5 235.0,462.5 227.5,470.0 220.0,468.8 215.0,467.5 212.5,465.0 208.8,457.5" fill="#599db9"/>
<polygon points="146.2,464.5 169.5,465.0 171.2,470.0 170.0,497.5 147.5,498.0 140.0,493.8 133.8,492.5 133.8,475.0 138.8,468.8" fill="#599db9"/>
<polygon points="169.5,465.0 173.8,470.0 182.5,475.0 190.0,473.8 188.8,495.0 188.0,498.0 170.0,497.5 171.2,470.0" fill="#599db9"/>
<polygon points="190.0,472.5 212.5,472.5 215.0,467.5 220.0,468.8 227.5,470.0 231.2,480.0 233.8,486.2 235.0,499.5 200.0,500.0 195.0,498.8 188.8,495.0" fill="#88c2ce"/>
<polygon points="133.8,492.5 140.0,493.8 147.5,498.0 145.0,513.8 125.5,514.5 125.0,511.2 126.2,502.5 130.0,495.0" fill="#599db9"/>
<polygon points="147.5,498.0 170.0,497.5 174.5,499.5 175.5,513.8 179.5,522.5 180.5,529.5 168.8,528.8 143.8,530.0 142.0,520.0 145.0,513.8" fill="#88c2ce"/>
<polygon points="174.5,499.5 188.0,498.0 195.0,499.5 200.0,503.8 204.5,507.5 202.0,515.0 202.0,529.5 180.5,529.5 179.5,522.5 175.5,513.8" fill="#c5e5dc"/>
<polygon points="200.0,500.0 235.0,499.5 232.5,507.5 229.5,515.0 227.5,527.5 223.8,530.0 202.0,529.5 202.0,515.0 204.5,507.5 200.0,503.8" fill="#599db9"/>
<polygon points="125.5,514.5 145.0,513.8 142.0,520.0 143.8,530.0 155.0,531.2 154.5,542.5 135.0,543.8 133.8,540.0 131.2,530.0 127.5,520.0" fill="#c5e5dc"/>
<polygon points="155.0,531.2 168.8,528.8 180.5,529.5 187.5,530.0 188.0,540.0 191.2,548.8 172.5,550.0 157.5,550.5 154.5,542.5" fill="#88c2ce"/>
<polygon points="187.5,530.0 202.0,529.5 223.8,530.0 227.5,527.5 229.5,530.0 228.8,549.5 210.0,550.0 191.2,548.8 188.0,540.0" fill="#88c2ce"/>
<polygon points="232.5,507.5 237.5,507.5 246.2,510.5 247.5,530.0 260.0,531.2 270.0,531.2 270.0,561.2 260.0,561.2 230.0,562.5 228.8,549.5 229.5,530.0 227.5,527.5 229.5,515.0" fill="#599db9"/>
<polygon points="235.0,487.0 240.0,487.5 264.5,487.0 264.5,506.2 263.8,511.2 247.5,511.2 240.0,507.5 235.0,506.2" fill="#88c2ce"/>
<polygon points="265.0,458.0 272.5,447.5 280.0,452.5 287.5,460.0 291.2,471.2 288.8,477.5 264.5,477.5" fill="#599db9"/>
<polygon points="264.5,477.5 288.8,477.5 291.2,471.2 293.8,486.2 298.8,496.2 302.5,500.0 302.5,505.5 277.5,507.0 264.5,506.2" fill="#599db9"/>
<polygon points="287.5,460.0 293.8,455.0 305.0,442.5 321.2,473.8 302.5,500.0 298.8,496.2 293.8,486.2 291.2,471.2" fill="#88c2ce"/>
<polygon points="302.5,500.0 321.2,473.8 327.5,470.0 333.8,480.0 342.5,490.0 350.0,497.5 340.0,505.0 335.0,512.5 320.0,513.0 310.0,508.8 302.5,505.5" fill="#599db9"/>
<polygon points="327.5,470.0 345.0,455.0 351.2,458.8 356.2,477.5 360.0,493.8 350.0,497.5 342.5,490.0 333.8,480.0" fill="#599db9"/>
<polygon points="351.2,458.8 370.0,453.8 371.2,472.5 367.5,493.8 360.0,493.8 356.2,477.5" fill="#599db9"/>
<polygon points="350.0,497.5 360.0,493.8 367.5,493.8 371.2,496.2 370.0,507.5 363.8,508.8 362.5,525.0 353.8,525.5 336.2,525.0 335.0,512.5 340.0,505.0" fill="#52769b"/>
<polygon points="320.0,513.0 335.0,512.5 336.2,525.0 353.8,525.5 355.0,546.2 353.8,557.5 335.0,557.5 325.0,553.8 308.8,552.5 311.2,545.0 315.0,536.2 320.0,525.0" fill="#599db9"/>
<polygon points="277.5,507.0 302.5,505.5 310.0,508.8 320.0,513.0 320.0,525.0 303.8,526.2 296.2,526.2 290.0,523.8 288.8,515.0 278.8,515.0" fill="#599db9"/>
<polygon points="278.8,515.0 288.8,515.0 290.0,523.8 296.2,526.2 303.8,526.2 320.0,525.0 315.0,536.2 311.2,545.0 307.5,546.2 286.2,546.2 281.2,540.0 275.0,535.0 276.2,522.5" fill="#599db9"/>
<polygon points="247.5,511.2 263.8,511.2 264.5,506.2 277.5,507.0 278.8,515.0 276.2,522.5 275.0,535.0 260.0,533.8 247.5,530.0" fill="#599db9"/>
<polygon points="260.0,533.8 275.0,535.0 281.2,540.0 286.2,546.2 283.8,552.5 280.0,561.2 260.0,561.2" fill="#599db9"/>
<polygon points="286.2,546.2 307.5,546.2 308.8,552.5 312.5,562.5 315.0,570.0 315.5,576.2 316.2,582.5 305.0,582.5 303.8,590.0 293.8,590.0 290.0,580.0 286.2,570.0 280.0,561.2 283.8,552.5" fill="#599db9"/>
<polygon points="308.8,552.5 325.0,553.8 335.0,557.5 353.8,557.5 352.5,565.0 347.5,567.5 348.8,576.2 322.5,577.0 315.5,576.2 315.0,570.0 312.5,562.5" fill="#599db9"/>
<polygon points="467.5,477.5 487.5,465.0 490.0,465.0 495.0,472.5 505.0,480.0 515.0,487.5 512.5,493.8 506.2,497.5 503.8,502.5 498.8,507.5 492.5,513.8 487.5,518.8 488.0,512.5 488.8,505.0 483.8,498.8 477.5,496.2 471.2,487.5" fill="#88c2ce"/>
<polygon points="432.5,472.5 447.5,467.5 461.2,462.5 463.8,470.0 467.5,477.5 471.2,487.5 477.5,496.2 483.8,498.8 488.8,505.0 488.0,512.5 487.5,518.8 480.0,515.0 473.8,508.8 467.5,501.2 465.0,495.0 455.0,493.8 447.5,491.2 441.2,486.2 436.2,481.2" fill="#599db9"/>
<polygon points="390.0,457.0 407.5,459.5 410.0,462.5 413.8,477.5 420.0,482.5 428.8,485.0 423.8,493.8 418.8,502.5 415.0,511.2 402.5,502.5 391.2,497.5 393.8,477.5" fill="#88c2ce"/>
<polygon points="428.8,485.0 436.2,481.2 441.2,486.2 435.0,497.5 433.8,505.0 442.5,512.5 452.5,520.0 456.2,525.0 450.0,533.8 442.5,538.8 435.0,527.5 423.8,515.0 415.0,511.2 418.8,502.5 423.8,493.8" fill="#599db9"/>
<polygon points="441.2,486.2 447.5,491.2 455.0,493.8 465.0,495.0 467.5,501.2 473.8,508.8 480.0,515.0 487.5,518.8 487.5,527.5 485.0,533.8 475.0,527.5 466.2,527.5 461.2,528.8 456.2,525.0 452.5,520.0 442.5,512.5 433.8,505.0 435.0,497.5" fill="#599db9"/>
<polygon points="456.2,525.0 461.2,528.8 466.2,527.5 475.0,527.5 485.0,533.8 483.8,535.0 481.2,542.5 480.0,550.0 477.5,562.5 475.0,565.0 465.0,562.5 457.5,557.5 450.0,550.0 445.0,547.5 442.5,538.8 450.0,533.8" fill="#88c2ce"/>
<polygon points="371.2,496.2 380.0,498.8 391.2,498.0 402.5,502.5 415.0,511.2 410.0,512.5 401.2,510.0 398.8,515.0 398.8,545.0 391.2,540.0 385.0,535.0 378.8,530.0 370.0,526.2 362.5,525.0 363.8,508.8 370.0,507.5" fill="#599db9"/>
<polygon points="401.2,510.0 410.0,512.5 415.0,511.2 423.8,515.0 435.0,527.5 442.5,538.8 445.0,547.5 441.2,552.5 436.2,557.5 430.0,560.0 407.5,558.8 405.0,550.0 398.8,545.0 398.8,515.0" fill="#52769b"/>
<polygon points="353.8,525.5 362.5,525.0 370.0,526.2 378.8,530.0 385.0,535.0 391.2,540.0 398.8,545.0 390.0,543.8 380.0,548.8 370.0,553.8 362.5,547.5 355.0,546.2" fill="#52769b"/>
<polygon points="370.0,553.8 380.0,548.8 390.0,543.8 398.8,545.0 405.0,550.0 407.5,558.8 402.5,565.0 395.0,572.5 390.0,577.0 383.8,570.0 377.5,562.5 373.8,557.5" fill="#52769b"/>
<polygon points="133.8,543.8 135.0,543.8 154.5,542.5 157.5,550.5 170.0,551.2 170.5,569.5 145.0,570.0 145.0,588.8 137.0,588.8 133.8,583.8 130.0,577.5 127.5,570.0 128.8,560.0 131.2,550.0" fill="#88c2ce"/>
<polygon points="170.0,551.2 190.0,550.0 215.0,550.5 213.8,556.2 206.2,561.2 200.0,565.0 193.8,572.5 185.0,581.2 182.5,588.8 180.0,588.8 179.5,570.0 170.5,569.5" fill="#c5e5dc"/>
<polygon points="145.0,570.0 170.5,569.5 179.5,570.0 180.0,588.8 145.0,588.8" fill="#599db9"/>
<polygon points="215.0,550.5 228.8,550.0 228.8,588.8 182.5,588.8 185.0,581.2 193.8,572.5 200.0,565.0 206.2,561.2 213.8,556.2" fill="#88c2ce"/>
<polygon points="137.0,588.8 145.0,588.8 161.2,589.5 160.0,605.0 156.2,615.0 150.0,622.5 147.5,623.8 143.8,615.0 140.0,605.0 137.5,596.2" fill="#599db9"/>
<polygon points="161.2,589.5 180.0,588.8 194.5,589.5 195.0,629.5 149.5,627.0 150.0,622.5 156.2,615.0 160.0,605.0" fill="#599db9"/>
<polygon points="194.5,589.5 218.0,589.5 218.8,600.0 221.2,606.2 221.2,630.5 195.0,629.5" fill="#599db9"/>
<polygon points="218.0,589.5 228.8,589.5 228.8,592.0 253.0,592.5 253.0,632.5 221.2,630.5 221.2,606.2 218.8,600.0" fill="#599db9"/>
<polygon points="228.8,562.5 240.0,562.5 250.0,562.0 273.8,561.2 271.2,577.5 268.8,591.2 252.5,593.0 240.0,592.5 228.8,592.0" fill="#599db9"/>
<polygon points="273.8,561.2 281.2,562.5 286.2,570.0 290.0,578.8 293.8,585.0 296.2,592.5 268.8,591.2 271.2,577.5" fill="#599db9"/>
<polygon points="305.0,582.5 315.0,581.2 316.2,575.0 322.5,577.5 322.5,602.5 318.8,610.0 316.2,605.0 310.0,602.5 303.8,600.0 302.5,593.0" fill="#599db9"/>
<polygon points="322.5,577.5 348.8,577.0 351.2,583.8 356.2,592.5 365.0,602.5 370.0,615.0 371.2,622.5 371.2,640.8 358.8,639.5 357.5,630.0 350.0,627.0 337.5,623.8 333.8,616.2 325.0,612.0 318.8,610.0 322.5,602.5" fill="#52769b"/>
<polygon points="308.8,620.0 315.0,613.8 318.8,610.0 325.0,612.0 333.8,616.2 337.5,623.8 350.0,627.0 357.5,630.0 358.8,639.5 307.5,636.2" fill="#599db9"/>
<polygon points="252.5,593.0 268.8,591.2 271.2,593.8 277.5,597.5 280.0,605.0 286.2,610.0 285.0,615.0 278.8,617.5 277.5,623.8 282.5,630.0 287.5,635.0 252.5,633.0" fill="#c5e5dc"/>
<polygon points="268.8,591.2 296.2,592.5 302.5,593.0 303.8,600.0 310.0,602.5 316.2,605.0 318.8,610.0 315.0,613.8 308.8,620.0 307.5,636.2 287.5,635.0 282.5,630.0 277.5,623.8 278.8,617.5 285.0,615.0 286.2,610.0 280.0,605.0 277.5,597.5 271.2,593.8" fill="#88c2ce"/>
<polygon points="353.8,547.5 365.0,547.5 370.0,553.8 373.8,557.5 377.5,562.5 383.8,570.0 390.0,577.0 392.5,582.5 395.0,590.0 400.0,642.5 390.0,642.0 371.2,640.8 371.2,622.5 370.0,615.0 365.0,602.5 356.2,592.5 351.2,583.8 348.8,577.0 347.5,567.5 352.5,565.0 353.8,557.5" fill="#599db9"/>
<polygon points="407.5,558.8 430.0,560.0 436.2,557.5 433.8,572.5 428.8,582.5 420.0,587.5 405.0,591.2 401.2,593.8 395.0,590.0 392.5,582.5 390.0,577.0 395.0,572.5 402.5,565.0" fill="#52769b"/>
<polygon points="445.0,547.5 450.0,550.0 457.5,557.5 465.0,562.5 476.2,565.0 472.5,575.0 467.5,585.0 463.8,592.5 461.2,593.8 452.5,586.2 442.5,583.8 432.5,580.0 433.8,572.5 436.2,557.5 441.2,552.5" fill="#599db9"/>
<polygon points="432.5,580.0 442.5,583.8 452.5,586.2 461.2,593.8 461.2,598.8 463.8,602.5 463.8,615.0 462.5,627.5 455.0,626.2 445.0,625.0 435.0,622.5 427.5,620.0 420.0,616.2 418.8,605.0 420.0,593.8 417.5,588.8 420.0,587.5 428.8,582.5" fill="#599db9"/>
<polygon points="373.8,596.2 395.0,595.5 401.2,593.8 405.0,591.2 417.5,588.8 420.0,593.8 418.8,605.0 420.0,616.2 415.0,616.2 410.0,620.0 407.5,626.2 407.5,635.0 409.5,645.0 410.0,655.0 407.5,663.8 400.0,665.0 395.0,662.5 392.5,655.0 390.5,647.5 390.0,642.0 370.0,641.2 370.0,618.8 373.8,618.8" fill="#599db9"/>
<polygon points="194.2,275.8 197.5,276.7 197.5,311.0 188.0,312.3 188.0,318.3 189.5,325.0 182.5,323.8 172.5,327.0 152.5,326.2 155.0,319.5 165.0,312.5 176.2,300.0 180.0,296.5 185.0,291.0 190.0,285.0 193.3,279.2" fill="#599db9"/>
<polygon points="373.8,618.8 396.2,618.8 395.0,642.0 370.0,641.2 370.0,618.8" fill="#599db9"/>
</g>
<polygon points="82.5,163.5 311.2,162.0 307.5,167.5 300.0,175.0 293.8,182.5 288.8,192.5 292.5,197.5 300.0,203.8 307.5,210.0 315.0,215.5 325.0,218.8 331.2,222.5 336.2,230.0 340.0,237.5 345.0,247.5 351.2,257.5 357.5,271.2 366.2,280.0 375.0,288.8 385.0,297.5 392.5,307.5 400.0,315.0 407.5,321.2 413.8,328.8 418.8,337.5 420.0,345.0 426.0,354.0 432.5,360.0 440.0,369.0 450.0,375.0 456.0,380.0 460.0,390.0 462.5,400.0 465.0,412.5 466.0,422.5 472.5,427.5 479.0,436.0 485.0,445.0 489.0,452.5 490.0,458.8 487.5,465.0 495.0,472.5 505.0,480.0 515.0,487.5 512.5,493.8 506.0,497.5 503.8,502.5 498.8,507.5 492.5,513.8 487.5,518.8 487.5,527.5 483.8,535.0 481.0,542.5 480.0,550.0 477.5,560.0 476.0,565.0 472.5,575.0 467.5,585.0 463.8,592.5 461.0,598.8 463.8,602.5 463.8,615.0 462.5,627.5 455.0,626.0 445.0,625.0 435.0,622.5 427.5,620.0 420.0,616.0 415.0,616.0 410.0,620.0 407.5,626.0 407.5,635.0 409.5,645.0 410.0,655.0 407.5,663.8 400.0,665.0 395.0,662.5 392.5,655.0 390.5,647.5 390.0,642.0 149.5,627.0 147.5,623.8 143.8,615.0 140.0,605.0 137.5,596.0 137.0,588.8 133.8,583.8 130.0,577.5 127.5,570.0 128.8,560.0 130.0,547.5 133.8,540.0 131.0,530.0 127.5,520.0 125.0,511.0 126.0,502.5 130.0,495.0 133.8,487.5 133.8,475.0 138.8,468.8 146.0,463.8 141.0,457.5 137.5,452.5 140.0,445.0 137.5,435.0 132.5,427.5 128.8,420.0 127.5,410.0 123.8,400.0 122.5,396.0" fill="none" stroke="#4f8099" stroke-width="0.55" stroke-linejoin="round"/>
<!--GEORGIA_LABEL--><text x="273" y="415" text-anchor="middle" font-family="Liberation Sans, sans-serif" font-size="10.5" letter-spacing="0.9" fill="#4d8ea8" opacity="0.22">Georgia</text>
</g>
<rect x="7.5" y="120.5" width="584" height="588" fill="none" stroke="#e3e3e3" stroke-width="1"/>
</svg>
<div id="title">Where voter turnout increased the most</div>
<div class="sub" style="top:44.6px;letter-spacing:0.467px">Turnout in the 2018 election increased by at least 10-percentage points in every county</div>
<div class="sub" style="top:64.6px;letter-spacing:0.469px">compared to the 2014 election. In the counties shaded the darkest that increase was</div>
<div class="sub" style="top:84.6px;letter-spacing:0.373px">close to 30 percent. Those counties tend to be exurban or rural and favored Brian Kemp.</div>
<div id="osm">© OpenStreetMap contributors</div>
<div id="lt">Turnout increase compared to 2014</div>
<div class="seg" style="left:10px;width:145px;background:#c9e9e0"></div>
<div class="seg" style="left:155px;width:145px;background:#8bc5d1"></div>
<div class="seg" style="left:300px;width:144px;background:#5da1bc"></div>
<div class="seg" style="left:444px;width:145px;background:#52789f"></div>
<div class="ll" style="left:9px">8.0%</div>
<div class="ll" style="right:12px">30.0%</div>
</body></html>
